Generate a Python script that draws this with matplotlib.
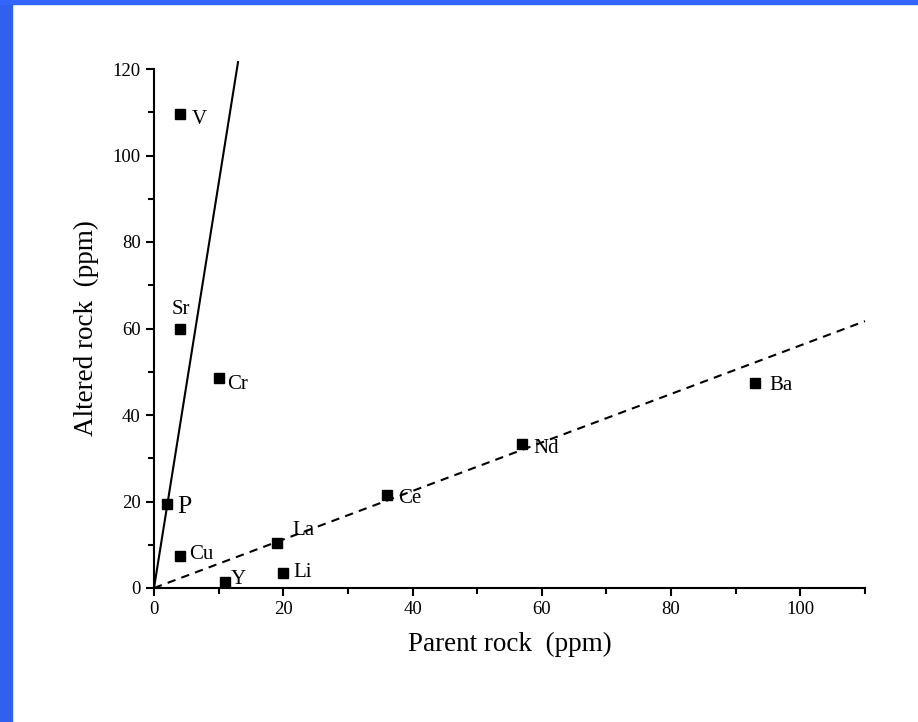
import matplotlib.pyplot as plt
from matplotlib.patches import Rectangle
from matplotlib.ticker import MultipleLocator

plt.rcParams['font.family'] = ['Liberation Serif', 'DejaVu Serif']

# element concentrations
elements = ['V', 'Sr', 'Cr', 'P', 'Cu', 'Y', 'La', 'Li', 'Ce', 'Nd', 'Ba']
parent = [4, 4, 10, 2, 4, 11, 19, 20, 36, 57, 93]
altered = [109.5, 60, 48.5, 19.5, 7.5, 1.5, 10.5, 3.5, 21.5, 33.3, 47.5]

# label offsets in pixels (dx, dy) to the text baseline, and font sizes
offsets = {'V': (12, -10), 'Sr': (-8, 15), 'Cr': (8, -11), 'P': (10, -9),
           'Cu': (9, -3), 'Y': (6, -2), 'La': (16, 8), 'Li': (10, -4),
           'Ce': (11, -8), 'Nd': (11, -9), 'Ba': (14, -7)}
sizes = {'P': 18.5}

# reference lines through the origin
steep_x = [0, 13]
steep_y = [0, 121.6]
dash_x = [0, 110]
dash_y = [0, 61.7]

fig = plt.figure(figsize=(9.18, 7.22), dpi=100)
fig.patches.append(Rectangle((0, 0), 12 / 918, 1, transform=fig.transFigure,
                             color='#3060ee', zorder=-1))
fig.patches.append(Rectangle((0, 1 - 4 / 722), 1, 4 / 722, transform=fig.transFigure,
                             color='#3366ff', zorder=-1))

ax = fig.add_axes([154 / 918, 1 - 588 / 722, 711 / 918, 519 / 722])

ax.plot(steep_x, steep_y, color='black', lw=1.5, clip_on=False)
ax.plot(dash_x, dash_y, color='black', lw=1.5, ls=(0, (4, 3)), clip_on=False)
ax.plot(parent, altered, 's', color='black', ms=6.5, clip_on=False, zorder=3)

for name, x, y in zip(elements, parent, altered):
    dx, dy = offsets[name]
    ax.annotate(name, (x, y), xytext=(dx, dy), textcoords='offset pixels',
                fontsize=sizes.get(name, 15), va='baseline', ha='left')

ax.set_xlim(0, 110)
ax.set_ylim(0, 120)
ax.xaxis.set_major_locator(MultipleLocator(20))
ax.xaxis.set_minor_locator(MultipleLocator(10))
ax.yaxis.set_major_locator(MultipleLocator(20))
ax.yaxis.set_minor_locator(MultipleLocator(10))
ax.spines['top'].set_visible(False)
ax.spines['right'].set_visible(False)
ax.spines['left'].set_linewidth(1.5)
ax.spines['bottom'].set_linewidth(1.5)
ax.tick_params(which='major', length=6, width=1.5, labelsize=13.5, direction='out')
ax.tick_params(which='minor', length=4, width=1.5, direction='out')

ax.set_xlabel('Parent rock  (ppm)', fontsize=19.5, labelpad=10)
ax.set_ylabel('Altered rock  (ppm)', fontsize=19.5, labelpad=10)

fig.savefig('out.png', dpi=100)
